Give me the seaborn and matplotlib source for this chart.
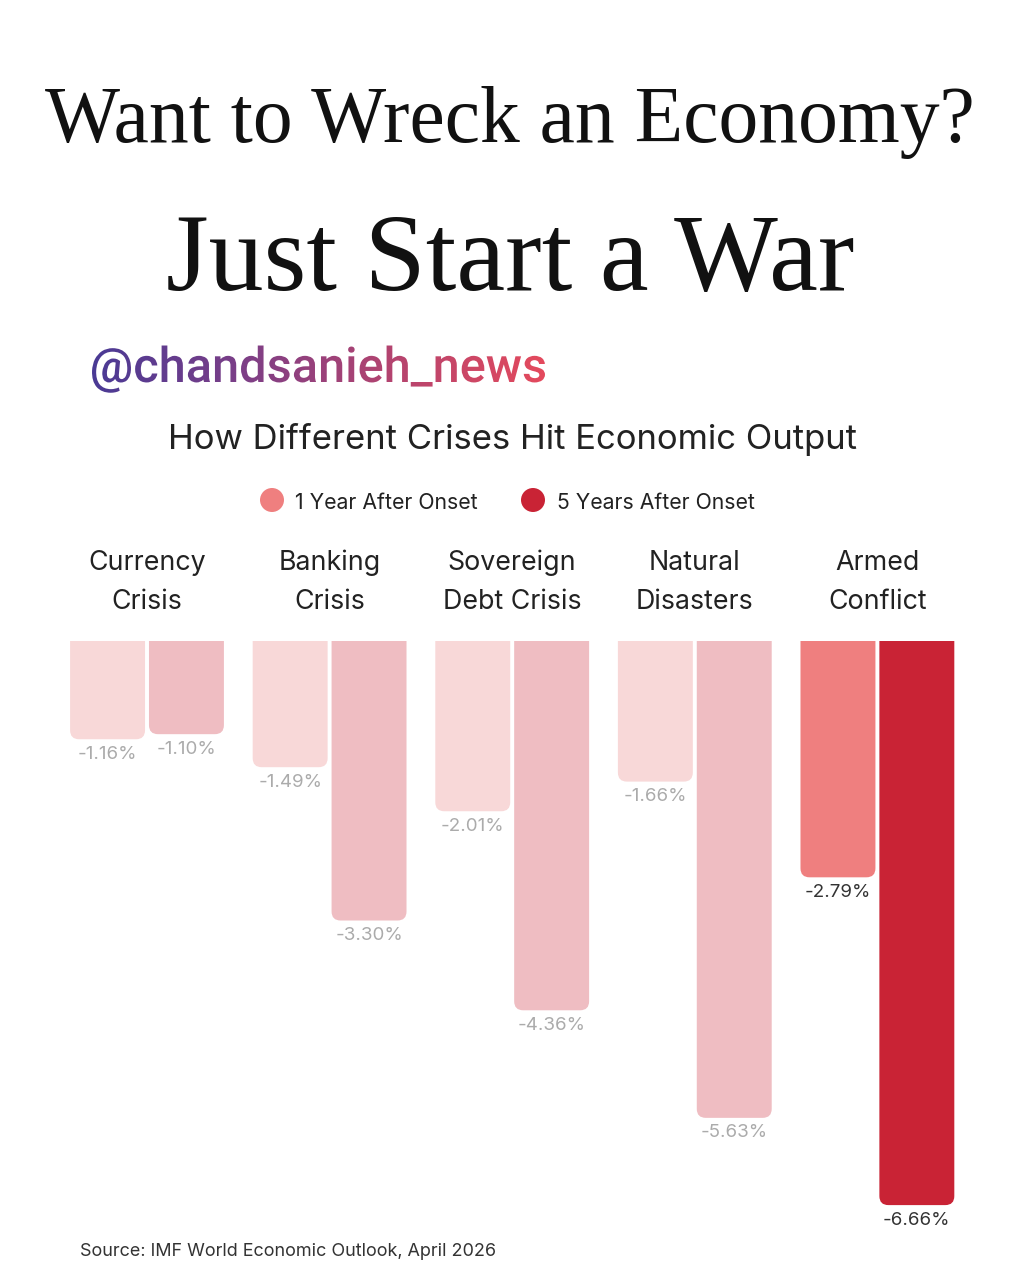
import numpy as np
import pandas as pd
import matplotlib
matplotlib.use("Agg")
import matplotlib.pyplot as plt
import seaborn as sns
from matplotlib.patches import FancyBboxPatch, PathPatch, Circle
from matplotlib.textpath import TextPath
from matplotlib.font_manager import FontProperties
from matplotlib.colors import LinearSegmentedColormap
from matplotlib.path import Path

# ---------------- data ----------------
crises = ["Currency Crisis", "Banking Crisis", "Sovereign Debt Crisis",
          "Natural Disasters", "Armed Conflict"]
crisis_labels = ["Currency\nCrisis", "Banking\nCrisis", "Sovereign\nDebt Crisis",
                 "Natural\nDisasters", "Armed\nConflict"]
periods = ["1 Year After Onset", "5 Years After Onset"]
one_year = [-1.16, -1.49, -2.01, -1.66, -2.79]
five_year = [-1.10, -3.30, -4.36, -5.63, -6.66]

title1 = "Want to Wreck an Economy?"
title2 = "Just Start a War"
watermark = "@chandsanieh_news"
subtitle = "How Different Crises Hit Economic Output"
source = "Source: IMF World Economic Outlook, April 2026"

df = pd.DataFrame({
    "crisis": crises * 2,
    "period": [periods[0]] * 5 + [periods[1]] * 5,
    "value": one_year + five_year,
})

# colours
faded = {0: "#F8D8D8", 1: "#EFBDC2"}
bold = {0: "#EF7F7F", 1: "#C92335"}
highlight = "Armed Conflict"

W, H = 1023, 1280
fig = plt.figure(figsize=(W / 100, H / 100), dpi=100)
fig.patch.set_facecolor("white")
sns.set_style("white")
SANS = ["Inter", "DejaVu Sans"]
plt.rcParams["font.family"] = SANS

# ---------------- bars ----------------
px_per_unit_x = 182.6
px_per_pct = 84.7
top_px = 641
ax = fig.add_axes([0, 0, 1, (H - top_px) / H])
sns.barplot(data=df, x="crisis", y="value", hue="period", order=crises,
            hue_order=periods, width=0.864, gap=0.05, legend=False, ax=ax,
            errorbar=None, saturation=1)
ax.set_xlim(-147 / px_per_unit_x, (W - 147) / px_per_unit_x)
ax.set_ylim(-(H - top_px) / px_per_pct, 0)
ax.axis("off")

aspect = px_per_unit_x / px_per_pct
rad = 9 / px_per_unit_x
bars = list(ax.patches)
for p in bars:
    x = p.get_x()
    w = p.get_width()
    h = p.get_height()
    cx = x + w / 2
    ci = int(round(cx))
    hi = 0 if cx < ci else 1
    is_hl = crises[ci] == highlight
    col = bold[hi] if is_hl else faded[hi]
    p.set_visible(False)
    val = h
    fb = FancyBboxPatch((x, val), w, -val + 0.5,
                        boxstyle=f"round,pad=0,rounding_size={rad}",
                        mutation_aspect=aspect, facecolor=col, edgecolor="none",
                        clip_on=True)
    ax.add_patch(fb)
    ax.text(cx, val - 15 / px_per_pct, f"{val:.2f}%", ha="center", va="center",
            fontsize=13.5, color="#333333" if is_hl else "#ABABAB",
            family=SANS)

# ---------------- overlay for texts ----------------
ov = fig.add_axes([0, 0, 1, 1], facecolor="none")
ov.set_xlim(0, W)
ov.set_ylim(0, H)
ov.axis("off")

renderer = fig.canvas.get_renderer()


def fit_text(x, y_base, s, target_w, fs0, ha="center", **kw):
    t = ov.text(x, H - y_base, s, ha=ha, va="baseline", fontsize=fs0, **kw)
    wpx = t.get_window_extent(renderer).width
    t.set_fontsize(fs0 * target_w / wpx)
    return t


SERIF = ["Liberation Serif", "DejaVu Serif"]
fit_text(510, 142, title1, 930, 60, family=SERIF, color="#111111")
fit_text(510, 290, title2, 688, 80, family=SERIF, color="#111111")
fit_text(512, 449, subtitle, 690, 22, family=SANS, color="#222222")

# legend
leg_col = [bold[0], bold[1]]
leg_x = [272, 533]
leg_text_x = [295, 557]
leg_w = [183, 198]
for i in range(2):
    ov.add_patch(Circle((leg_x[i], H - 500), 12, facecolor=leg_col[i], edgecolor="none"))
    fit_text(leg_text_x[i], 509, periods[i], leg_w[i], 15, ha="left",
             family=SANS, color="#222222")

# category labels
cat_fs = None
for i, lab in enumerate(crisis_labels):
    cx = 147 + i * px_per_unit_x
    l1, l2 = lab.split("\n")
    if cat_fs is None:
        t = fit_text(cx, 570, l1, 117, 19, family=SANS, color="#222222")
        cat_fs = t.get_fontsize()
    else:
        ov.text(cx, H - 570, l1, ha="center", va="baseline", fontsize=cat_fs,
                family=SANS, color="#222222")
    ov.text(cx, H - 609, l2, ha="center", va="baseline", fontsize=cat_fs,
            family=SANS, color="#222222")

# source
fit_text(80, 1256, source, 417, 12, ha="left", family=SANS, color="#333333")

# watermark with gradient
fp = FontProperties(family=["Roboto", "DejaVu Sans"], weight="medium")
tp = TextPath((0, 0), watermark, size=50, prop=fp)
ext = tp.get_extents()
scale = 453 / ext.width
tp = TextPath((0, 0), watermark, size=50 * scale, prop=fp)
ext = tp.get_extents()
dx = 92 - ext.x0
dy = (H - 382)
verts = tp.vertices.copy()
verts[:, 0] += dx
verts[:, 1] += dy
tp2 = Path(verts, tp.codes)
e2 = tp2.get_extents()
cmap = LinearSegmentedColormap.from_list("wm", ["#4A3A95", "#7D3F87", "#B5446F", "#E44A5D"])
grad = np.linspace(0, 1, 256).reshape(1, -1)
im = ov.imshow(grad, cmap=cmap, aspect="auto",
               extent=[e2.x0, e2.x1, e2.y0, e2.y1], zorder=5)
pp = PathPatch(tp2, facecolor="none", edgecolor="none", transform=ov.transData)
ov.add_patch(pp)
im.set_clip_path(pp)
ov.set_xlim(0, W)
ov.set_ylim(0, H)

fig.savefig("out.png", dpi=100, facecolor="white")
